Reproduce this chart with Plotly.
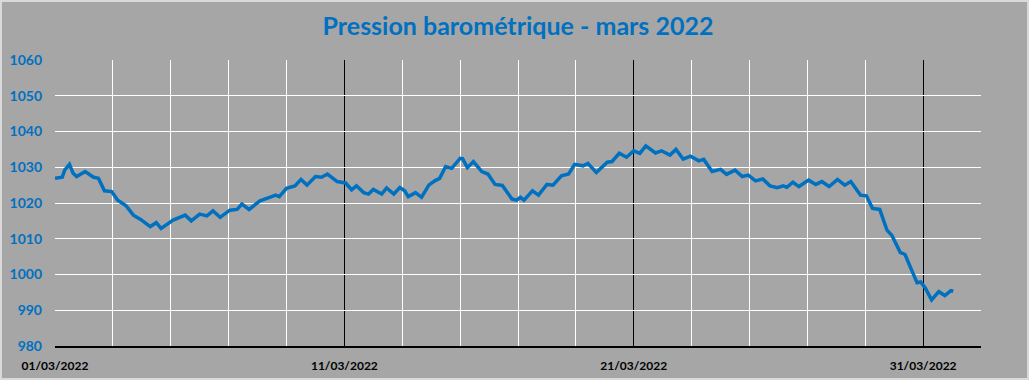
import plotly.graph_objects as go

times = [
    "2022-03-01 00:00", "2022-03-01 06:00", "2022-03-01 08:00", "2022-03-01 12:00", "2022-03-01 15:00", "2022-03-01 18:00",
    "2022-03-02 01:00", "2022-03-02 08:00", "2022-03-02 12:00", "2022-03-02 17:00", "2022-03-02 23:00",
    "2022-03-03 04:00", "2022-03-03 11:00", "2022-03-03 17:00", "2022-03-03 23:00",
    "2022-03-04 07:00", "2022-03-04 12:00", "2022-03-04 16:00",
    "2022-03-05 02:00", "2022-03-05 12:00", "2022-03-05 17:00",
    "2022-03-06 00:00", "2022-03-06 06:00", "2022-03-06 11:00", "2022-03-06 17:00",
    "2022-03-07 01:00", "2022-03-07 07:00", "2022-03-07 11:00", "2022-03-07 17:00",
    "2022-03-08 02:00", "2022-03-08 10:00", "2022-03-08 15:00", "2022-03-08 18:00",
    "2022-03-09 00:00", "2022-03-09 07:00", "2022-03-09 12:00", "2022-03-09 17:00",
    "2022-03-10 00:00", "2022-03-10 05:00", "2022-03-10 10:00", "2022-03-10 18:00", "2022-03-10 23:00",
    "2022-03-11 01:00", "2022-03-11 06:00", "2022-03-11 10:00", "2022-03-11 16:00", "2022-03-11 20:00",
    "2022-03-12 00:00", "2022-03-12 07:00", "2022-03-12 11:00", "2022-03-12 17:00", "2022-03-12 22:00",
    "2022-03-13 02:00", "2022-03-13 05:00", "2022-03-13 11:00", "2022-03-13 16:00", "2022-03-13 22:00",
    "2022-03-14 03:00", "2022-03-14 07:00", "2022-03-14 12:00", "2022-03-14 17:00",
    "2022-03-15 00:00", "2022-03-15 02:00", "2022-03-15 06:00", "2022-03-15 11:00", "2022-03-15 18:00", "2022-03-15 23:00",
    "2022-03-16 05:00", "2022-03-16 11:00", "2022-03-16 19:00", "2022-03-16 23:00",
    "2022-03-17 02:00", "2022-03-17 05:00", "2022-03-17 12:00", "2022-03-17 17:00",
    "2022-03-18 00:00", "2022-03-18 05:00", "2022-03-18 12:00", "2022-03-18 18:00", "2022-03-18 23:00",
    "2022-03-19 06:00", "2022-03-19 10:00", "2022-03-19 17:00",
    "2022-03-20 02:00", "2022-03-20 06:00", "2022-03-20 12:00", "2022-03-20 18:00",
    "2022-03-21 00:00", "2022-03-21 05:00", "2022-03-21 10:00", "2022-03-21 18:00", "2022-03-21 23:00",
    "2022-03-22 06:00", "2022-03-22 11:00", "2022-03-22 17:00", "2022-03-22 23:00",
    "2022-03-23 06:00", "2022-03-23 10:00", "2022-03-23 17:00",
    "2022-03-24 00:00", "2022-03-24 05:00", "2022-03-24 12:00", "2022-03-24 18:00", "2022-03-24 23:00",
    "2022-03-25 05:00", "2022-03-25 11:00", "2022-03-25 17:00", "2022-03-25 23:00",
    "2022-03-26 04:00", "2022-03-26 07:00", "2022-03-26 12:00", "2022-03-26 17:00",
    "2022-03-27 01:00", "2022-03-27 07:00", "2022-03-27 12:00", "2022-03-27 18:00",
    "2022-03-28 01:00", "2022-03-28 07:00", "2022-03-28 12:00", "2022-03-28 20:00",
    "2022-03-29 01:00", "2022-03-29 06:00", "2022-03-29 12:00", "2022-03-29 18:00", "2022-03-29 22:00",
    "2022-03-30 05:00", "2022-03-30 09:00", "2022-03-30 15:00", "2022-03-30 19:00", "2022-03-30 22:00",
    "2022-03-31 02:00", "2022-03-31 07:00", "2022-03-31 13:00", "2022-03-31 18:00", "2022-03-31 23:00",
    "2022-04-01 01:00",
]

pressure = [
    1026.9, 1027.2, 1029.2, 1030.8, 1028.3, 1027.4,
    1028.8, 1027.2, 1026.9, 1023.4, 1023.2,
    1020.8, 1019.2, 1016.6, 1015.4,
    1013.4, 1014.5, 1012.9,
    1015.2, 1016.6, 1015.0,
    1016.9, 1016.4, 1017.8, 1016.0,
    1018.0, 1018.2, 1019.7, 1018.2,
    1020.6, 1021.6, 1022.2, 1021.8,
    1024.1, 1024.8, 1026.6, 1025.0,
    1027.4, 1027.2, 1028.1, 1026.0, 1025.8,
    1025.6, 1023.7, 1024.8, 1022.9, 1022.5,
    1023.8, 1022.5, 1024.2, 1022.5, 1024.3,
    1023.4, 1021.8, 1022.9, 1021.6, 1025.0,
    1026.2, 1026.9, 1030.2, 1029.7,
    1032.5, 1032.4, 1029.9, 1031.6, 1028.8, 1028.1,
    1025.2, 1024.9, 1021.1, 1020.8,
    1021.6, 1020.8, 1023.4, 1022.2,
    1025.2, 1025.0, 1027.6, 1028.1, 1030.8,
    1030.4, 1031.1, 1028.5,
    1031.4, 1031.6, 1033.9, 1032.8,
    1034.6, 1033.9, 1036.0, 1034.0, 1034.6,
    1033.4, 1035.0, 1032.3, 1033.1,
    1031.8, 1032.2, 1028.8,
    1029.4, 1028.0, 1029.2, 1027.4, 1027.8,
    1026.2, 1026.7, 1024.8, 1024.3,
    1024.8, 1024.4, 1025.8, 1024.6,
    1026.4, 1025.2, 1026.0, 1024.6,
    1026.6, 1025.0, 1026.0, 1022.2,
    1022.0, 1018.5, 1018.2, 1012.4, 1011.0,
    1006.2, 1005.6, 1000.8, 997.7, 997.9,
    996.1, 992.9, 995.2, 994.1, 995.5,
    995.3,
]

title_text = "Pression barométrique - mars 2022"
x_range = ["2022-03-01", "2022-04-02"]
y_range = [980, 1060]

BG = "#A6A6A6"
BLUE = "#0070C0"
DAY_MS = 86400000

fig = go.Figure()
fig.add_trace(go.Scatter(
    x=times, y=pressure, mode="lines",
    line=dict(color=BLUE, width=3.5),
    hoverinfo="x+y", showlegend=False,
))

W, H = 1029, 380
ml, mr, mt, mb = 55, 48, 60, 34
pw, ph = W - ml - mr, H - mt - mb

fig.update_layout(
    width=W, height=H,
    margin=dict(l=ml, r=mr, t=mt, b=mb, autoexpand=False),
    paper_bgcolor=BG, plot_bgcolor=BG,
    title=dict(text=title_text, x=0.5, xanchor="center", xref="paper",
               y=1 - 26 / H, yanchor="middle", yref="container",
               font=dict(family="Lato", size=25, color=BLUE, weight="bold")),
    xaxis=dict(
        type="date", range=x_range,
        tick0="2022-03-01", dtick=10 * DAY_MS, tickformat="%d/%m/%Y",
        showgrid=True, gridcolor="black", gridwidth=1,
        minor=dict(tick0="2022-03-01", dtick=2 * DAY_MS, showgrid=True,
                   gridcolor="white", gridwidth=1),
        showline=True, linecolor="black", linewidth=2,
        ticks="", ticklabelstandoff=8,
        tickfont=dict(family="Lato", size=12, color="black", weight="bold"),
        zeroline=False, fixedrange=True,
    ),
    yaxis=dict(
        range=y_range, dtick=10, tick0=980,
        showgrid=True, gridcolor="white", gridwidth=1,
        showline=False, zeroline=False, ticks="",
        ticklabelstandoff=12,
        tickfont=dict(family="Lato", size=14, color=BLUE, weight="bold"),
        fixedrange=True,
    ),
    shapes=[dict(
        type="rect", xref="paper", yref="paper",
        x0=-(ml - 1) / pw, x1=1 + (mr - 1) / pw,
        y0=-(mb - 1) / ph, y1=1 + (mt - 1) / ph,
        line=dict(color="#D9D9D9", width=2), fillcolor="rgba(0,0,0,0)",
        layer="below",
    )],
)

fig.write_html("out.html",
               config={"displayModeBar": False},
               post_script="document.body.style.margin='0';document.body.style.overflow='hidden';")
